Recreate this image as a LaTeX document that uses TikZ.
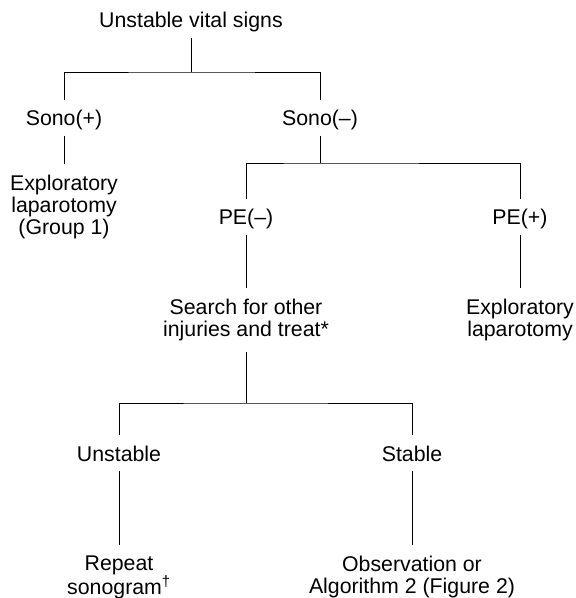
\documentclass[tikz,border=0pt]{standalone}
\usepackage{fontspec}
\setmainfont{Liberation Sans}
\usepackage{tikz}

\tikzset{
  lbl/.style={font=\fontsize{21.3}{22}\selectfont, inner sep=0pt, outer ysep=8pt,
    text height=18pt, text depth=2pt, anchor=base},
  blk/.style={font=\fontsize{21.3}{22}\selectfont, inner sep=0pt, outer ysep=11pt,
    align=center, anchor=north},
  tree/.style={line width=0.9pt}
}

\begin{document}
\begin{tikzpicture}[x=1pt, y=-1pt]
    \useasboundingbox (0,0) rectangle (576,598);

    % Knoten
    \node[lbl] (uvs) at (191,27.5) {Unstable vital signs};
    \node[lbl] (sonop) at (64,125.5) {Sono(+)};
    \node[lbl] (sonom) at (320,125.5) {Sono(--)};
    \node[blk] (expl1) at (64,164) {Exploratory\\laparotomy\\(Group 1)};
    \node[lbl] (pem) at (246,224.5) {PE(--)};
    \node[lbl] (pep) at (520,224.5) {PE(+)};
    \node[blk] (search) at (246,288) {Search for other\\injuries and treat*};
    \node[blk] (expl2) at (520,288) {Exploratory\\laparotomy};
    \node[lbl] (unst) at (119,461) {Unstable};
    \node[lbl] (stab) at (412,461) {Stable};
    \node[blk] (repeat) at (119,545) {Repeat\\sonogram\textsuperscript{†}};
    \node[blk] (obs) at (412,545) {Observation or\\Algorithm 2 (Figure 2)};

    % Verzweigungen
    \coordinate (j1) at (191,72);
    \coordinate (j2) at (320,163);
    \coordinate (j3) at (246,403);

    % Linien
    \draw[tree] (uvs) -- (j1);
    \draw[tree] (sonop) |- (j1) -| (sonom);
    \draw[tree] (sonop) -- (expl1);
    \draw[tree] (sonom) -- (j2);
    \draw[tree] (pem) |- (j2) -| (pep);
    \draw[tree] (pem) -- (search);
    \draw[tree] (pep) -- (expl2);
    \draw[tree] (search) -- (j3);
    \draw[tree] (unst) |- (j3) -| (stab);
    \draw[tree] (unst) -- (repeat);
    \draw[tree] (stab) -- (obs);
\end{tikzpicture}
\end{document}
